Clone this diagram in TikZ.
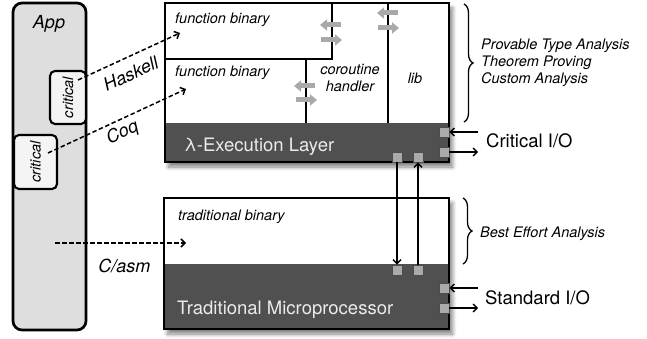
\documentclass[tikz,border=0pt]{standalone}
\usepackage{fontspec}
\setmainfont{TeX Gyre Heros}
\usetikzlibrary{arrows.meta,shadows.blur,decorations.pathreplacing}
\definecolor{appfill}{HTML}{DEDEDE}
\definecolor{critfill}{HTML}{F4F4F4}
\definecolor{darkfill}{HTML}{505050}
\definecolor{sqfill}{HTML}{AAAAAA}
\definecolor{garrow}{HTML}{A9A9A9}
\begin{document}
\begin{tikzpicture}[x=1pt,y=-1pt,
 shd/.style={blur shadow={shadow xshift=3.5pt,shadow yshift=-5pt,shadow blur radius=4pt,shadow blur steps=8,shadow opacity=50}},
 box/.style={draw=black, line width=2.7pt, inner sep=0pt, outer sep=0pt},
 sq/.style={draw=black!70, fill=sqfill, line width=0.6pt, minimum size=10pt, inner sep=0pt},
 small/.style={font=\fontsize{14.5}{17}\selectfont\itshape, inner sep=0pt},
 big/.style={font=\fontsize{18.5}{21}\selectfont, inner sep=0pt},
 lang/.style={font=\fontsize{18}{21}\selectfont\itshape, inner sep=0pt},
 dasharrow/.style={line width=1.5pt, dash pattern=on 4.5pt off 2.5pt, -{Straight Barb[length=4pt,width=8pt]}},
 ioarrow/.style={line width=1.4pt, -{Straight Barb[length=4pt,width=8pt]}},
 garr/.style={draw=garrow, line width=5pt, -{Triangle[width=11pt,length=7pt]}},
 divider/.style={line width=1.5pt},
 bracestyle/.style={line width=1.3pt, decorate, decoration={brace, amplitude=9pt}},
]
\useasboundingbox (0,0) rectangle (647,339);

% App column
\node[box, fill=appfill, rounded corners=9pt, minimum width=73pt, minimum height=327pt] (app) at (49.5,166.5) {};
\node[lang] (apptxt) at (49,24) {App};
\node[draw, line width=2.1pt, fill=critfill, rounded corners=5pt, minimum width=36pt, minimum height=53pt, inner sep=0pt] (crit1) at (68,97.5) {};
\node[small, rotate=90] (crit1txt) at (crit1.center) {critical};
\node[draw, line width=2.1pt, fill=critfill, rounded corners=5pt, minimum width=43pt, minimum height=54pt, inner sep=0pt] (crit2) at (35.5,162) {};
\node[small, rotate=90] (crit2txt) at (crit2.center) {critical};

% Top box
\node[box, shd, fill=white, minimum width=284pt, minimum height=159pt] (top) at (307,82.5) {};
\node[fill=darkfill, minimum width=284pt, minimum height=39pt, inner sep=0pt] (topdark) at (307,142.5) {};
\draw[divider] (332,3) -- (332,59) -- (165,59);
\draw[divider] (306,59) -- (306,123);
\draw[divider] (388,3) -- (388,123);
\draw[line width=2.7pt] (top.north west) rectangle (top.south east);
\node[small, anchor=west] (fb1) at (175,20) {function binary};
\node[small, anchor=west] (fb2) at (175,73) {function binary};
\node[small, align=center] (cor) at (350,78) {coroutine\\handler};
\node[small] (lib) at (415,78) {lib};
\node[big, text=white!92!black, anchor=west] (lam) at (184,147) {λ-Execution Layer};
\coordinate (ga1) at (341,25); \coordinate (ga2) at (321,40);
\coordinate (gb1) at (315,86); \coordinate (gb2) at (296,100);
\coordinate (gc1) at (398,13); \coordinate (gc2) at (378,28);
\draw[garr] (ga1) -- ++(-21,0);
\draw[garr] (ga2) -- ++(21,0);
\draw[garr] (gb1) -- ++(-21,0);
\draw[garr] (gb2) -- ++(21,0);
\draw[garr] (gc1) -- ++(-21,0);
\draw[garr] (gc2) -- ++(21,0);
\node[sq] (tr1) at (444,132) {};
\node[sq] (tr2) at (444,152) {};
\node[sq] (tb1) at (397,157) {};
\node[sq] (tb2) at (418,157) {};

% Bottom box
\node[box, shd, fill=white, minimum width=285pt, minimum height=131pt] (bot) at (306.5,263.5) {};
\node[fill=darkfill, minimum width=285pt, minimum height=65pt, inner sep=0pt] (botdark) at (306.5,296.5) {};
\draw[line width=2.7pt] (bot.north west) rectangle (bot.south east);
\node[small, anchor=west] (tbin) at (178,217) {traditional binary};
\node[big, text=white!92!black, anchor=west] (tmp) at (177,310) {Traditional Microprocessor};
\node[sq] (bt1) at (397,270) {};
\node[sq] (bt2) at (418,270) {};
\node[sq] (br1) at (444,288) {};
\node[sq] (br2) at (444,308) {};

% vertical links
\draw[ioarrow] (tb1.south) -- (bt1.north);
\draw[ioarrow] (bt2.north) -- (tb2.south);

% I/O
\coordinate (ci) at (478,132);
\coordinate (co) at (478,152);
\coordinate (si) at (478,288);
\coordinate (so) at (478,308);
\draw[ioarrow] (ci) -- (tr1.east);
\draw[ioarrow] (tr2.east) -- (co);
\draw[ioarrow] (si) -- (br1.east);
\draw[ioarrow] (br2.east) -- (so);
\node[big, anchor=west] (citxt) at (486,141) {Critical I/O};
\node[big, anchor=west] (sitxt) at (485,298) {Standard I/O};

% braces
\coordinate (b1a) at (464,4);
\coordinate (b1b) at (464,122);
\coordinate (b2a) at (463,198);
\coordinate (b2b) at (463,264);
\draw[bracestyle] (b1a) -- (b1b);
\draw[bracestyle] (b2a) -- (b2b);
\node[small, anchor=west, align=left] (analysis) at (481,63) {Provable Type Analysis\\Theorem Proving\\Custom Analysis};
\node[small, anchor=west] (best) at (480,234) {Best Effort Analysis};

% compile paths
\coordinate (hsS) at (78,80);
\coordinate (hsE) at (180,33);
\coordinate (cqS) at (48,153);
\coordinate (cqE) at (186,89);
\coordinate (caS) at (55,243);
\coordinate (caE) at (186,243);
\draw[dasharrow] (hsS) -- (hsE) node[lang, pos=0.45, sloped, below=9pt] (hask) {Haskell};
\draw[dasharrow] (cqS) -- (cqE) node[lang, pos=0.5, sloped, below=4pt] (coq) {Coq};
\draw[dasharrow] (caS) -- (caE) node[lang, pos=0.53, below=15pt] (casm) {C/asm};
\end{tikzpicture}
\end{document}
